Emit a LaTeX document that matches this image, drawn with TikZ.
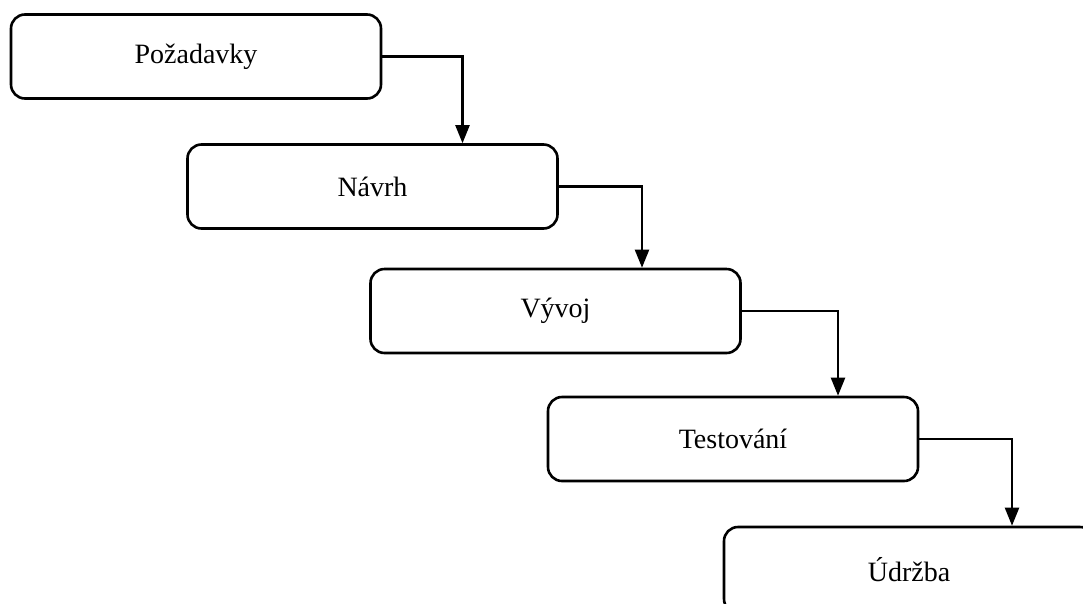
\documentclass[tikz,border=0pt]{standalone}
\usepackage{fontspec}
\setmainfont{Liberation Serif}
\usetikzlibrary{arrows.meta,positioning,calc}

\begin{document}
\begin{tikzpicture}[
    x=1pt, y=-1pt,
    phase/.style={rectangle, draw, line width=2.6pt, rounded corners=14pt, fill=white,
        minimum width=370pt, minimum height=84pt, inner sep=0pt,
        font=\fontsize{28}{33}\selectfont},
    arrow/.style={-{Triangle[width=14pt,length=18pt]}, line width=2.2pt}
]
\clip (0,0) rectangle (1083,603);
\fill[white] (0,0) rectangle (1083,603);

\node[phase] (req) at (196,56.5) {Požadavky};
\node[phase] (design) at (372.5,186.5) {Návrh};
\node[phase] (dev) at (555.5,311) {Vývoj};
\node[phase] (test) at (733,439) {Testování};
\node[phase, minimum height=86pt] (maint) at (909,570) {Údržba};

\draw[arrow] (req.east) -| ([xshift=90pt]design.north);
\draw[arrow] (design.east) -| ([xshift=86.5pt]dev.north);
\draw[arrow] (dev.east) -| ([xshift=105pt]test.north);
\draw[arrow] (test.east) -| ([xshift=103pt]maint.north);
\end{tikzpicture}
\end{document}
